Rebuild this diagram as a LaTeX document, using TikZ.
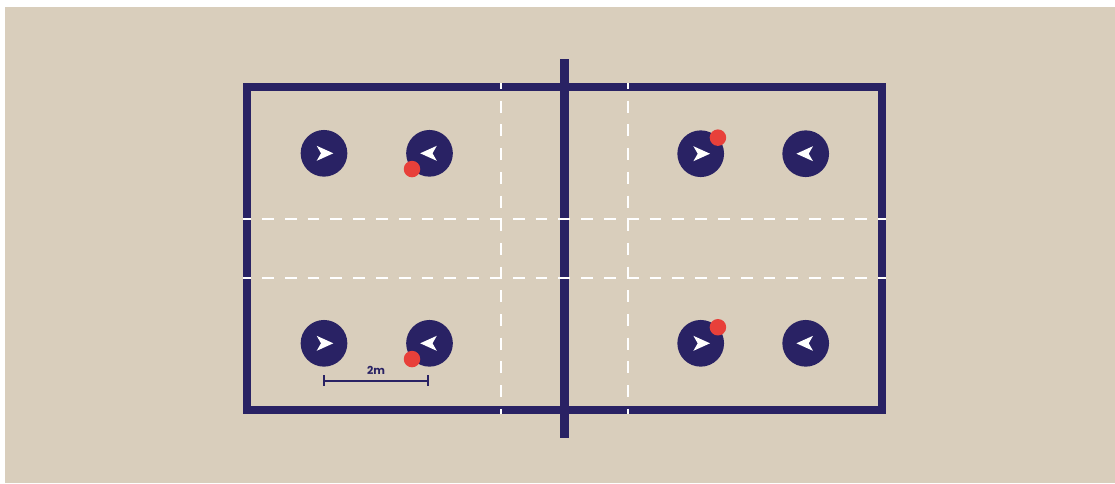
\documentclass[tikz,border=0pt]{standalone}
\usepackage{fontspec}
\setsansfont{Poppins}
\usetikzlibrary{arrows.meta,positioning}
\definecolor{navy}{RGB}{41,34,100}
\definecolor{sand}{RGB}{217,206,188}
\definecolor{ballred}{RGB}{232,64,58}
% white direction marker inside a player disc
\newcommand{\faceright}[1]{\fill[white, shift={(#1.center)}]
  (9.3,0) -- (-7.3,-7.5) -- (-3,0) -- (-7.3,7.5) -- cycle;}
\newcommand{\faceleft}[1]{\fill[white, shift={(#1.center)}, xscale=-1]
  (9.3,0) -- (-7.3,-7.5) -- (-3,0) -- (-7.3,7.5) -- cycle;}

\begin{document}
\begin{tikzpicture}[x=1pt, y=-1pt,
  player/.style={circle, fill=navy, minimum size=46.7pt, inner sep=0pt},
  ball/.style  ={circle, fill=ballred, minimum size=16.5pt, inner sep=0pt},
  court/.style ={draw=navy, line width=8pt},
  netline/.style={draw=navy, line width=9pt},
  vdash/.style ={draw=white, line width=2pt, dash pattern=on 12pt off 11.7pt, dash phase=6pt},
  hdash/.style ={draw=white, line width=2pt, dash pattern=on 11.7pt off 11.1pt, dash phase=3.8pt}]
\useasboundingbox (0,0) rectangle (1115,483);
\fill[white] (0,0) rectangle (1115,483);
\fill[sand]  (5,7) rectangle (1115,483);
% court and net
\draw[court] (247,87) rectangle (882,410);
\coordinate (nettop) at (564.5,59);
\coordinate (netbot) at (564.5,438);
\draw[netline] (nettop) -- (netbot);
% white dashed zones
\draw[vdash] (500.7,83) -- (500.7,414);
\draw[vdash] (628,83) -- (628,414);
\draw[hdash] (243,219.3) -- (886,219.3);
\draw[hdash] (243,277.7) -- (886,277.7);
% players
\node[player] (pa) at (324,153.3) {};
\node[player, right=58.4pt of pa] (pb) {};
\node[player] (pc) at (324,343.3) {};
\node[player, right=58.4pt of pc] (pd) {};
\node[player] (pe) at (700.7,153.7) {};
\node[player, right=57.9pt of pe] (pf) {};
\node[player] (pg) at (700.7,343.3) {};
\node[player, right=57.9pt of pg] (ph) {};
\faceright{pa} \faceleft{pb}
\faceright{pc} \faceleft{pd}
\faceright{pe} \faceleft{pf}
\faceright{pg} \faceleft{ph}
% balls
\node[ball] (ba) at (pb.222) {};
\node[ball] (bb) at (pd.222) {};
\node[ball] (bc) at (pe.43) {};
\node[ball] (bd) at (pg.43) {};
% scale bar
\coordinate (sbl) at (323.3,380.7);
\coordinate (sbr) at (429,380.7);
\draw[navy, line width=2pt, {Bar[width=10.5pt]}-{Bar[width=10.5pt]}] (sbl) -- (sbr)
  node[midway, above=2pt, font=\sffamily\bfseries\fontsize{11}{12}\selectfont] (sblab) {2m};
\end{tikzpicture}
\end{document}
